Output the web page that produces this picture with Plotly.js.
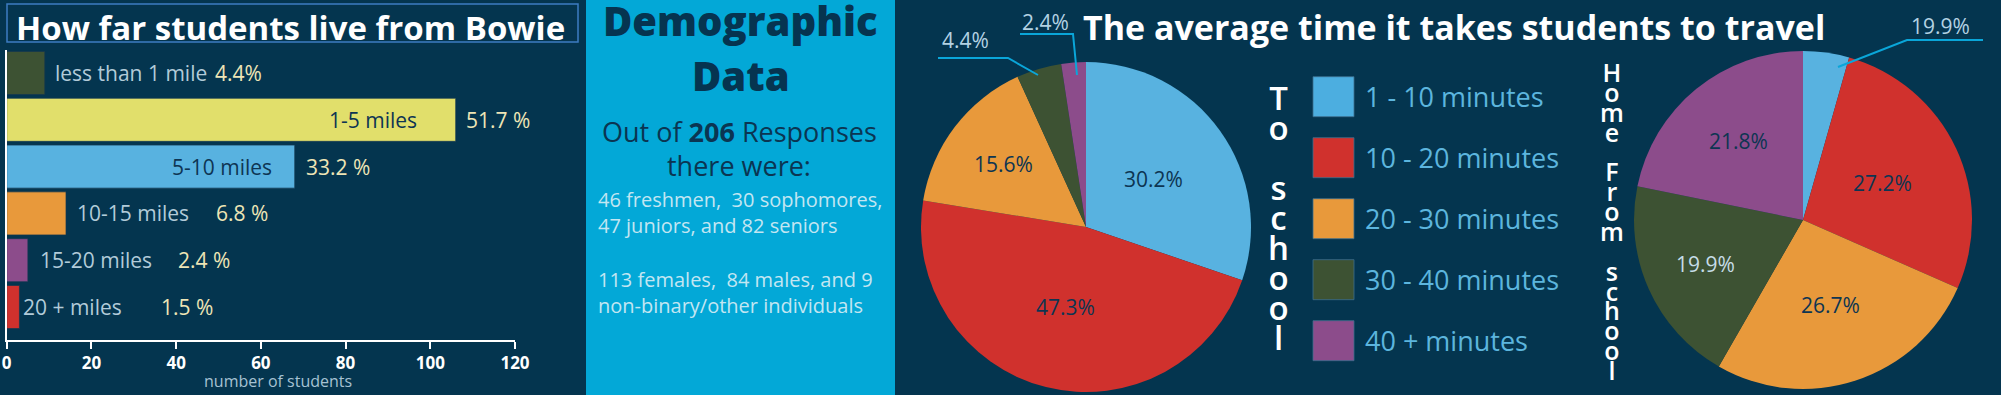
<!DOCTYPE html>
<html>
<head>
<meta charset="utf-8">
<script src="https://cdn.plot.ly/plotly-3.0.1.min.js"></script>
<style>
  html, body { margin: 0; padding: 0; background: #04354f; }
  #chart { width: 2001px; height: 395px; }
</style>
</head>
<body>
<div id="chart"></div>
<script>
// ---------------- DATA ----------------
const distCategories = ['less than 1 mile', '1-5 miles', '5-10 miles', '10-15 miles', '15-20 miles', '20 + miles'];
const distCounts = [9, 106, 68, 14, 5, 3];
const distPctLabels = ['4.4%', '51.7 %', '33.2 %', '6.8 %', '2.4 %', '1.5 %'];

const timeCategories = ['1 - 10 minutes', '10 - 20 minutes', '20 - 30 minutes', '30 - 40 minutes', '40 + minutes'];
const toSchoolPct = [30.2, 47.3, 15.6, 4.4, 2.4];
const toSchoolLabels = ['30.2%', '47.3%', '15.6%', '4.4%', '2.4%'];
const fromSchoolPct = [4.4, 27.2, 26.7, 19.9, 21.8];
const fromSchoolLabels = ['19.9%', '27.2%', '26.7%', '19.9%', '21.8%'];

const totalResponses = 206;
const gradeCounts = [46, 30, 47, 82];
const gradeNames = ['freshmen', 'sophomores', 'juniors', 'seniors'];
const genderCounts = [113, 84, 9];
const genderNames = ['females', 'males', 'non-binary/other individuals'];

// ---------------- STYLE / LAYOUT ----------------
const W = 2001, H = 395;
const px = x => x / W;
const py = y => 1 - y / H;
const FONT = 'Open Sans, Lato, sans-serif';
const NAVY = '#04354f';
const CYAN = '#03a8d7';
const distColors = ['#3d5233', '#e1df6b', '#58b2e0', '#e8993b', '#8c4c8b', '#d0312d'];
const timeColors = ['#58b2e0', '#d0312d', '#e8993b', '#3d5233', '#8c4c8b'];
const legendColors = ['#4caee0', '#d0312d', '#e8993b', '#3d5233', '#8c4c8b'];
// bar label offsets (px from the bar end)
const nameShift = [8, -37, -21, 9, 10, 2];
const pctShift = [168, 8, 9, 148, 148, 140];
// pie geometry (px) and inside-label radial placement (fraction of radius; null = label outside)
const pieToGeom = { cx: 1086, cy: 227, r: 165 };
const pieFromGeom = { cx: 1803, cy: 220, r: 169 };
const toLabelRadius = [0.5, 0.5, 0.63, null, null];
const fromLabelRadius = [null, 0.52, 0.53, 0.63, 0.6];
const fromLabelColors = ['#0d3552', '#0d3552', '#0d3552', '#c6dde8', '#0d3552'];

const annotations = [];
const shapes = [];

function addText(text, x, y, opts) {
  annotations.push(Object.assign({
    text: text, x: px(x), y: py(y), xref: 'paper', yref: 'paper',
    showarrow: false, xanchor: 'center', yanchor: 'middle',
    font: { family: FONT, size: 20, color: '#ffffff' }
  }, opts || {}));
}

// ---------------- PANEL BACKGROUNDS ----------------
shapes.push({ type: 'rect', xref: 'paper', yref: 'paper', x0: px(586), x1: px(895), y0: 0, y1: 1,
  fillcolor: CYAN, line: { width: 0 }, layer: 'below' });
shapes.push({ type: 'rect', xref: 'paper', yref: 'paper', x0: px(7), x1: px(578), y0: py(42), y1: py(4),
  fillcolor: 'rgba(0,0,0,0)', line: { color: '#3d7cc2', width: 1.5 }, layer: 'above' });

// ---------------- TITLES ----------------
addText('How far students live from Bowie', 290.5, 27, { font: { family: FONT, size: 33, color: '#ffffff', weight: 'bold' } });
addText('The average time it takes students to travel', 1453.5, 27, { font: { family: FONT, size: 34, color: '#ffffff', weight: 'bold' } });

// ---------------- DEMOGRAPHIC PANEL ----------------
addText('Demographic', 740.5, 20, { font: { family: FONT, size: 40, color: '#063450', weight: 800 } });
addText('Data', 741, 75, { font: { family: FONT, size: 40, color: '#063450', weight: 800 } });
addText('Out of <b>' + totalResponses + '</b> Responses', 739.5, 131, { font: { family: FONT, size: 27, color: '#0b3552' } });
addText('there were:', 738.5, 165, { font: { family: FONT, size: 27, color: '#0b3552' } });
addText(gradeCounts[0] + ' ' + gradeNames[0] + ',\u00a0 ' + gradeCounts[1] + ' ' + gradeNames[1] + ',<br>' +
        gradeCounts[2] + ' ' + gradeNames[2] + ', and ' + gradeCounts[3] + ' ' + gradeNames[3],
        596, 212.5, { xanchor: 'left', align: 'left', font: { family: FONT, size: 20, color: '#c3e6f2' } });
addText(genderCounts[0] + ' ' + genderNames[0] + ',\u00a0 ' + genderCounts[1] + ' ' + genderNames[1] + ', and ' + genderCounts[2] + '<br>' +
        genderNames[2],
        596, 292, { xanchor: 'left', align: 'left', font: { family: FONT, size: 20, color: '#c3e6f2' } });

// ---------------- BAR LABELS ----------------
distCategories.forEach((c, i) => {
  const inside = nameShift[i] < 0;
  annotations.push({
    text: c, x: distCounts[i], y: c, xref: 'x', yref: 'y', showarrow: false,
    xanchor: inside ? 'right' : 'left', yanchor: 'middle', xshift: nameShift[i],
    font: { family: FONT, size: 21, color: inside ? '#0e3553' : '#b2cbd9' }
  });
  annotations.push({
    text: distPctLabels[i], x: distCounts[i], y: c, xref: 'x', yref: 'y', showarrow: false,
    xanchor: 'left', yanchor: 'middle', xshift: pctShift[i],
    font: { family: FONT, size: 21, color: '#eee5b6' }
  });
});
addText('number of students', 278, 381, { font: { family: FONT, size: 16, color: '#a6c2d3' } });

// ---------------- PIE INSIDE LABELS (placed on each slice's mid-angle) ----------------
function pieLabels(values, labels, geom, radius, colors) {
  const total = values.reduce((a, b) => a + b, 0);
  let cum = 0;
  values.forEach((v, i) => {
    const mid = (cum + v / 2) / total * 2 * Math.PI;
    cum += v;
    if (radius[i] === null) return;
    const d = radius[i] * geom.r;
    addText(labels[i], geom.cx + d * Math.sin(mid), geom.cy - d * Math.cos(mid),
      { font: { family: FONT, size: 21, color: colors ? colors[i] : '#0d3552' } });
  });
}
pieLabels(toSchoolPct, toSchoolLabels, pieToGeom, toLabelRadius, null);
pieLabels(fromSchoolPct, fromSchoolLabels, pieFromGeom, fromLabelRadius, fromLabelColors);

// ---------------- PIE OUTSIDE LABELS + LEADERS ----------------
const leaderColor = '#0aa6d9';
function leader(points) {
  let d = '';
  points.forEach((p, k) => { d += (k === 0 ? 'M' : 'L') + px(p[0]) + ',' + py(p[1]); });
  shapes.push({ type: 'path', xref: 'paper', yref: 'paper', path: d, line: { color: leaderColor, width: 2 }, layer: 'above' });
}
addText(toSchoolLabels[3], 965.5, 40, { font: { family: FONT, size: 21, color: '#b3d2e3' } });
leader([[938, 58], [1008, 58], [1038, 75]]);
addText(toSchoolLabels[4], 1045, 22, { font: { family: FONT, size: 21, color: '#b3d2e3' } });
leader([[1020, 34], [1073, 34], [1077, 75]]);
addText(fromSchoolLabels[0], 1940, 26, { font: { family: FONT, size: 21, color: '#b3d2e3' } });
leader([[1838, 67], [1907, 40], [1983, 40]]);

// ---------------- LEGEND ----------------
timeCategories.forEach((c, i) => {
  const cy = 96.7 + i * 61;
  shapes.push({ type: 'rect', xref: 'paper', yref: 'paper', x0: px(1313), x1: px(1354), y0: py(cy + 20), y1: py(cy - 20),
    fillcolor: legendColors[i], line: { color: 'rgba(60,110,140,0.8)', width: 1 }, layer: 'above' });
  addText(c, 1363, cy, { xanchor: 'left', font: { family: FONT, size: 27, color: '#5cb5de' } });
});

// ---------------- VERTICAL (STACKED) LABELS ----------------
// one text per label: letters on separate lines; base size sets the line pitch, span size sets the glyph size
function stacked(word, glyphSize) {
  return word.split('').map(ch =>
    '<span style="font-size:' + glyphSize + 'px">' + (ch === ' ' ? '\u00a0' : ch) + '</span>').join('<br>');
}
addText(stacked('To school', 33), 1278, 217.5, {
  font: { family: FONT, size: 30 / 1.3, color: '#ffffff', weight: 600 } });
addText(stacked('Home From school', 25), 1612, 221.3, {
  font: { family: FONT, size: 19.87 / 1.3, color: '#ffffff', weight: 600 } });

// ---------------- TRACES ----------------
const barTrace = {
  type: 'bar', orientation: 'h',
  x: distCounts, y: distCategories,
  marker: { color: distColors, line: { color: 'rgba(20,55,80,0.7)', width: 1 } },
  hoverinfo: 'none', showlegend: false
};

function pieDomain(g) {
  return { x: [px(g.cx - g.r), px(g.cx + g.r)], y: [py(g.cy + g.r), py(g.cy - g.r)] };
}

const pieTo = {
  type: 'pie', values: toSchoolPct, labels: timeCategories, text: toSchoolLabels,
  textinfo: 'none', sort: false, direction: 'clockwise', rotation: 0,
  marker: { colors: timeColors, line: { width: 0 } },
  domain: pieDomain(pieToGeom),
  hoverinfo: 'none', showlegend: false
};

const pieFrom = {
  type: 'pie', values: fromSchoolPct, labels: timeCategories, text: fromSchoolLabels,
  textinfo: 'none', sort: false, direction: 'clockwise', rotation: 0,
  marker: { colors: timeColors, line: { width: 0 } },
  domain: pieDomain(pieFromGeom),
  hoverinfo: 'none', showlegend: false
};

const layout = {
  width: W, height: H,
  margin: { l: 0, r: 0, t: 0, b: 0, pad: 0 },
  paper_bgcolor: NAVY, plot_bgcolor: 'rgba(0,0,0,0)',
  showlegend: false, bargap: 0.08,
  xaxis: {
    domain: [px(6.7), px(515)], range: [0, 120], dtick: 20,
    showline: true, linecolor: '#ffffff', linewidth: 2,
    ticks: 'outside', ticklen: 7, tickwidth: 2, tickcolor: '#ffffff',
    tickfont: { family: FONT, size: 17, color: '#ffffff', weight: 'bold' },
    showgrid: false, zeroline: false, fixedrange: true
  },
  yaxis: {
    domain: [py(340), py(49.6)], type: 'category', range: [5.705, -0.5],
    showline: true, linecolor: '#ffffff', linewidth: 2,
    showticklabels: false, ticks: '', showgrid: false, zeroline: false, fixedrange: true
  },
  shapes: shapes,
  annotations: annotations
};

Plotly.newPlot('chart', [barTrace, pieTo, pieFrom], layout, { displayModeBar: false, staticPlot: true });
</script>
</body>
</html>
